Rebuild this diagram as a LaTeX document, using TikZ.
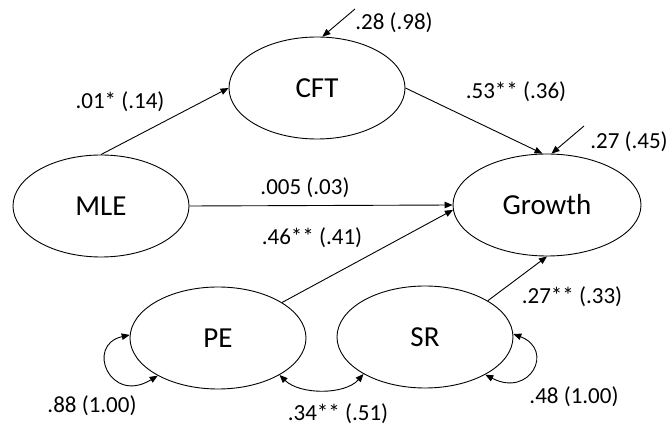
\documentclass[tikz,border=0pt]{standalone}
\usepackage{fontspec}
\setmainfont{Carlito}
\usetikzlibrary{shapes.geometric,arrows.meta}

\tikzset{
  latent/.style={ellipse, draw, line width=0.9pt, inner sep=0pt,
    minimum width=176pt, minimum height=102pt, font=\fontsize{29}{32}\selectfont},
  coef/.style={inner sep=0pt, font=\fontsize{23}{26}\selectfont},
  path/.style={line width=0.9pt, -{Triangle[length=8pt,width=6.5pt]}},
  cov/.style={line width=0.9pt, {Triangle[length=8pt,width=6.5pt]}-{Triangle[length=8pt,width=6.5pt]}},
}

\begin{document}
\begin{tikzpicture}[x=1pt,y=-1pt]
\useasboundingbox (0,0) rectangle (670,430);

% latent variables
\node[latent] (CFT) at (317,88) {CFT};
\node[latent] (MLE) at (101,206) {MLE};
\node[latent, minimum width=188pt] (Growth) at (547,205) {Growth};
\node[latent] (PE) at (218,338) {PE};
\node[latent] (SR) at (425,337) {SR};

% residual sources
\coordinate (eCFT) at (355,9);
\coordinate (eGrowth) at (584,126);

% structural paths
\draw[path] (MLE.north) -- (CFT.west);
\draw[path] (CFT.east) -- (Growth.95);
\draw[path] (MLE.east) -- (Growth.west);
\draw[path] (PE.29) -- (Growth.183);
\draw[path] (SR.30) -- (Growth.south);

% residuals
\draw[path] (eCFT) -- (CFT.84);
\draw[path] (eGrowth) -- (Growth.85);

% variances and covariance
\draw[cov] (PE.212) .. controls (110,405) and (85,345) .. (PE.178);
\draw[cov] (SR.328) .. controls (530,398) and (555,350) .. (SR.2);
\draw[cov] (PE.329) .. controls (300,395) and (345,395) .. (SR.211);

% coefficients
\node[coef] (lCFTres) at (394,23) {.28 (.98)};
\node[coef] (lMLECFT) at (120,102) {.01* (.14)};
\node[coef] (lCFTGr) at (516,92) {.53** (.36)};
\node[coef] (lGrres) at (629,142) {.27 (.45)};
\node[coef] (lMLEGr) at (305,188) {.005 (.03)};
\node[coef] (lPEGr) at (312,238) {.46** (.41)};
\node[coef] (lSRGr) at (572,297) {.27** (.33)};
\node[coef] (lPEvar) at (92,406) {.88 (1.00)};
\node[coef] (lcov) at (338,414) {.34** (.51)};
\node[coef] (lSRvar) at (574,397) {.48 (1.00)};
\end{tikzpicture}
\end{document}
